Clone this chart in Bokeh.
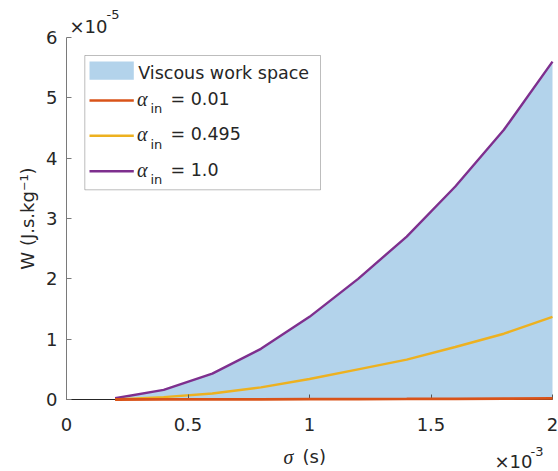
from bokeh.plotting import figure
from bokeh.models import (FixedTicker, CustomJSTickFormatter, Label, BoxAnnotation,
                          Range1d)
from bokeh.embed import file_html
from bokeh.resources import INLINE

# sigma in units of 1e-3 s, work W in units of 1e-5 J.s/kg
sigma = [0.2, 0.4, 0.6, 0.8, 1.0, 1.2, 1.4, 1.6, 1.8, 2.0]
w_alpha_001 = [0.0, 0.001, 0.002, 0.003, 0.005, 0.007, 0.009, 0.012, 0.015, 0.018]
w_alpha_0495 = [0.0, 0.04, 0.10, 0.20, 0.34, 0.50, 0.66, 0.87, 1.09, 1.37]
w_alpha_1 = [0.02, 0.16, 0.43, 0.84, 1.37, 2.00, 2.70, 3.53, 4.47, 5.60]

x_ticks = [0, 0.5, 1, 1.5, 2]
y_ticks = [0, 1, 2, 3, 4, 5, 6]

ORANGE = "#D95319"
YELLOW = "#EDB120"
PURPLE = "#7E2F8E"
FILL = "#B3D3EB"
INK = "#262626"
FONT = "DejaVu Sans"
SERIF = "Liberation Serif"

# canvas size and the pixel box that holds the axes
W, H = 558, 471
FL, FR, FT, FB = 66, 552, 37, 399
X_MAX, Y_MAX = 2.0, 6.0
SX = X_MAX / (FR - FL)
SY = Y_MAX / (FB - FT)
BASELINE_SHIFT = 6  # Label places alphabetic baselines a little low


def dx(px):
    return (px - FL) * SX


def dy(py):
    return (FB - py) * SY


# the frame spans the whole canvas; axes are pinned at zero so that the
# surrounding texts stay inside the drawable area
p = figure(width=W, height=H, output_backend="svg", toolbar_location=None,
           x_range=Range1d(dx(0), dx(W)), y_range=Range1d(dy(H), dy(0)),
           min_border=0)
p.outline_line_color = None
p.grid.visible = False
p.background_fill_color = "white"
p.border_fill_color = "white"

# shaded band between the lowest and highest alpha curves
p.varea(x=sigma, y1=w_alpha_001, y2=w_alpha_1, fill_color=FILL, fill_alpha=1.0)
p.line(sigma, w_alpha_1, line_color=PURPLE, line_width=2.4)
p.line(sigma, w_alpha_0495, line_color=YELLOW, line_width=2.4)
r_low = p.line(sigma, w_alpha_001, line_color=ORANGE, line_width=2.8)
r_low.level = "annotation"

fmt = CustomJSTickFormatter(code="return tick.toString();")
for ax, ticks, bounds in ((p.xaxis[0], x_ticks, (0, X_MAX)),
                          (p.yaxis[0], y_ticks, (0, Y_MAX))):
    ax.ticker = FixedTicker(ticks=ticks)
    ax.formatter = fmt
    ax.fixed_location = 0
    ax.bounds = bounds
    ax.minor_tick_line_color = None
    ax.major_tick_in = 5
    ax.major_tick_out = 0
    ax.major_label_text_font = FONT
    ax.major_label_text_font_size = "18px"
    ax.major_label_text_color = INK
    ax.axis_label_text_font = FONT
    ax.axis_label_text_font_size = "18px"
    ax.axis_label_text_font_style = "normal"
    ax.axis_label_text_color = INK

p.xaxis.axis_line_color = INK
p.xaxis.major_tick_line_color = "#555555"
p.xaxis.major_label_standoff = 18
p.yaxis.axis_line_color = "#7a7a7a"
p.yaxis.major_tick_line_color = "#7a7a7a"
p.yaxis.major_label_standoff = 9
p.yaxis.axis_label = "W (J.s.kg\u207b\u00b9)"
p.yaxis.axis_label_standoff = 5


def add_text(text, px, py, size="18px", font=FONT, style="normal", color=INK):
    p.add_layout(Label(x=dx(px), y=dy(py - BASELINE_SHIFT), text=text, text_font=font,
                       text_font_size=size, text_font_style=style,
                       text_color=color, text_align="left",
                       text_baseline="alphabetic"))


# axis multipliers
add_text("\u00d710", 69, 31.7)
add_text("-5", 106, 20, size="13px")
add_text("\u00d710", 494, 466.7)
add_text("-3", 530, 456.7, size="13px")

# x axis label
add_text("\u03c3", 283, 462, size="20px", font=SERIF, style="italic")
add_text("(s)", 302, 462)

# legend
p.add_layout(BoxAnnotation(left=dx(84.3), right=dx(320), top=dy(55), bottom=dy(189.3),
                           fill_color="white", fill_alpha=1.0,
                           line_color=INK, line_width=1, level="annotation"))
p.add_layout(BoxAnnotation(left=dx(89), right=dx(133.3), top=dy(61), bottom=dy(79.3),
                           fill_color=FILL, fill_alpha=1.0, line_color=None,
                           level="annotation"))
add_text("Viscous work space", 137.7, 78.3, size="17.5px")

entries = [(ORANGE, "= 0.01", 100), (YELLOW, "= 0.495", 135.3), (PURPLE, "= 1.0", 170.7)]
for color, txt, ly in entries:
    seg = p.segment(x0=[dx(89)], y0=[dy(ly)], x1=[dx(133.3)], y1=[dy(ly)],
                    line_color=color, line_width=2.4)
    seg.level = "overlay"
    add_text("\u03b1", 136.5, ly + 4.3, size="20px", font=SERIF, style="italic")
    add_text("in", 150, ly + 14.3, size="13px")
    add_text(txt, 170, ly + 4.3, size="17.5px")

open("out.html", "w").write(file_html(p, INLINE))
